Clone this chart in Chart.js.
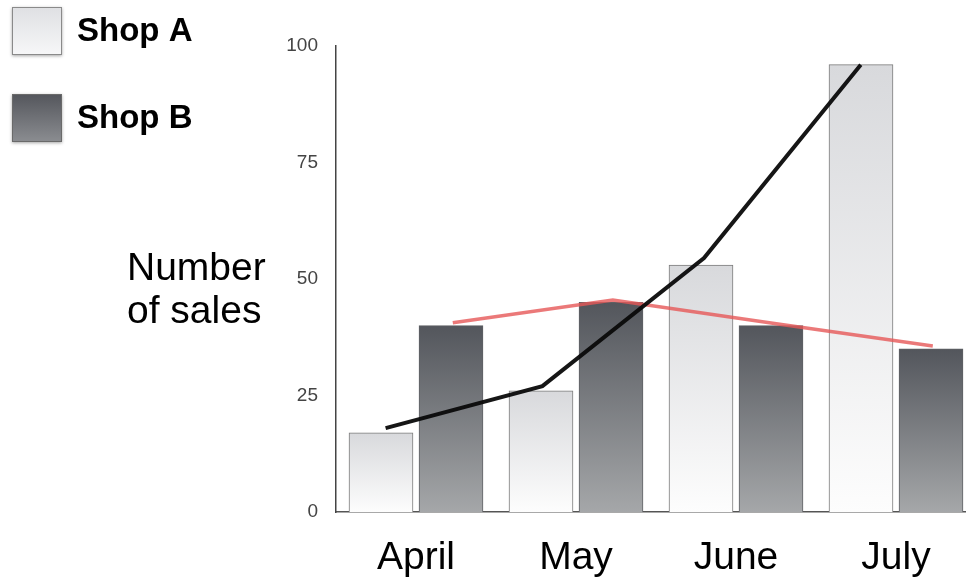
<!DOCTYPE html>
<html>
<head>
<meta charset="utf-8">
<title>Number of sales</title>
<script src="https://cdn.jsdelivr.net/npm/chart.js@4"></script>
<style>
  html, body { margin: 0; padding: 0; background: #fff; overflow: hidden; }
  #wrap { width: 976px; height: 582px; position: relative; }
</style>
</head>
<body>
<div id="wrap"><canvas id="salesChart"></canvas></div>
<script>
// 月份與兩間店的銷售數
const months = ['April', 'May', 'June', 'July'];
const shopA = [17, 26, 53, 96];
const shopB = [40, 45, 40, 35];
const yTicks = [0, 25, 50, 75, 100];

// 手繪趨勢線（位置以類別為單位，0 = 第一個類別左緣）
const trendAx = [0.31, 1.29, 2.30, 3.28];
const trendAy = [18, 27, 54.5, 96];
const trendBx = [0.73, 1.73, 2.73, 3.73];
const trendBy = [40.6, 45.5, 40.5, 35.6];

const legendItems = [
    { label: 'Shop A', top: '#dfe0e3', bottom: '#f7f7f8', border: '#8a8a8a' },
    { label: 'Shop B', top: '#54565c', bottom: '#8b8d91', border: '#6a6a6a' }
];

const FONT = '"Liberation Sans", Arial, sans-serif';

// 每根長條各自的漸層
function barGradient(topColor, bottomColor) {
    return function(context) {
        const chart = context.chart;
        const y = chart.scales.y;
        if (!y || context.raw === undefined) return topColor;
        const yTop = y.getPixelForValue(context.raw);
        const yBase = y.getPixelForValue(0);
        if (!isFinite(yTop) || !isFinite(yBase) || yTop === yBase) return topColor;
        const g = chart.ctx.createLinearGradient(0, yTop, 0, yBase);
        g.addColorStop(0, topColor);
        g.addColorStop(1, bottomColor);
        return g;
    };
}

// 左上角圖例與 Y 軸標題
const sideText = {
    id: 'sideText',
    afterDraw(chart) {
        const ctx = chart.ctx;
        ctx.save();
        legendItems.forEach((item, i) => {
            const x = 12, y = 7 + i * 87, w = 50, h = 48;
            ctx.shadowColor = 'rgba(0,0,0,0.35)';
            ctx.shadowBlur = 3;
            ctx.shadowOffsetY = 1;
            const g = ctx.createLinearGradient(0, y, 0, y + h);
            g.addColorStop(0, item.top);
            g.addColorStop(1, item.bottom);
            ctx.fillStyle = g;
            ctx.fillRect(x, y, w, h);
            ctx.shadowColor = 'transparent';
            ctx.strokeStyle = item.border;
            ctx.lineWidth = 1;
            ctx.strokeRect(x + 0.5, y + 0.5, w - 1, h - 1);
            ctx.fillStyle = '#000';
            ctx.font = 'bold 33px ' + FONT;
            ctx.textBaseline = 'middle';
            ctx.textAlign = 'left';
            ctx.fillText(item.label, 77, y + h / 2 + 1);
        });

        ctx.fillStyle = '#000';
        ctx.font = '39px ' + FONT;
        ctx.textAlign = 'left';
        ctx.textBaseline = 'alphabetic';
        ctx.fillText('Number', 127, 280);
        ctx.fillText('of sales', 127, 323);
        ctx.restore();
    }
};

const ctx = document.getElementById('salesChart').getContext('2d');
new Chart(ctx, {
    data: {
        labels: months,
        datasets: [
            {
                type: 'line',
                label: 'Shop A trend',
                data: trendAx.map((x, i) => ({ x: x, y: trendAy[i] })),
                xAxisID: 'xl',
                borderColor: 'rgba(10,10,10,0.95)',
                borderWidth: 4,
                pointRadius: 0,
                tension: 0,
                order: 0
            },
            {
                type: 'line',
                label: 'Shop B trend',
                data: trendBx.map((x, i) => ({ x: x, y: trendBy[i] })),
                xAxisID: 'xl',
                borderColor: 'rgba(230,88,88,0.8)',
                borderWidth: 3.5,
                pointRadius: 0,
                tension: 0,
                order: 1
            },
            {
                type: 'bar',
                label: 'Shop A',
                data: shopA,
                xAxisID: 'x',
                backgroundColor: barGradient('#d8d9dc', '#fdfdfd'),
                borderColor: '#7a7a7a',
                borderWidth: 1,
                barThickness: 70,
                maxBarThickness: 64,
                order: 2
            },
            {
                type: 'bar',
                label: 'Shop B',
                data: shopB,
                xAxisID: 'x',
                backgroundColor: barGradient('#53565c', '#a5a7a9'),
                borderColor: '#5e6064',
                borderWidth: 1,
                barThickness: 70,
                maxBarThickness: 64,
                order: 2
            }
        ]
    },
    options: {
        responsive: true,
        maintainAspectRatio: false,
        animation: false,
        layout: { padding: { top: 46, right: 0, bottom: 0, left: 0 } },
        plugins: {
            legend: { display: false },
            tooltip: { enabled: false }
        },
        scales: {
            x: {
                type: 'category',
                grid: { display: false, drawTicks: false },
                border: { display: true, color: '#555', width: 1.5 },
                ticks: {
                    color: '#000',
                    padding: 23,
                    font: { size: 39, family: FONT }
                },
                afterFit: (scale) => { scale.height = 70; }
            },
            xl: {
                type: 'linear',
                display: false,
                min: 0,
                max: months.length
            },
            y: {
                min: 0,
                max: 100,
                grid: { display: false, drawTicks: false },
                border: { display: true, color: '#444', width: 1.5 },
                afterBuildTicks: (scale) => { scale.ticks = yTicks.map(v => ({ value: v })); },
                ticks: {
                    color: '#444',
                    padding: 18,
                    font: { size: 19, family: FONT }
                },
                afterFit: (scale) => { scale.width = 336; }
            }
        }
    },
    plugins: [sideText]
});
</script>
</body>
</html>
